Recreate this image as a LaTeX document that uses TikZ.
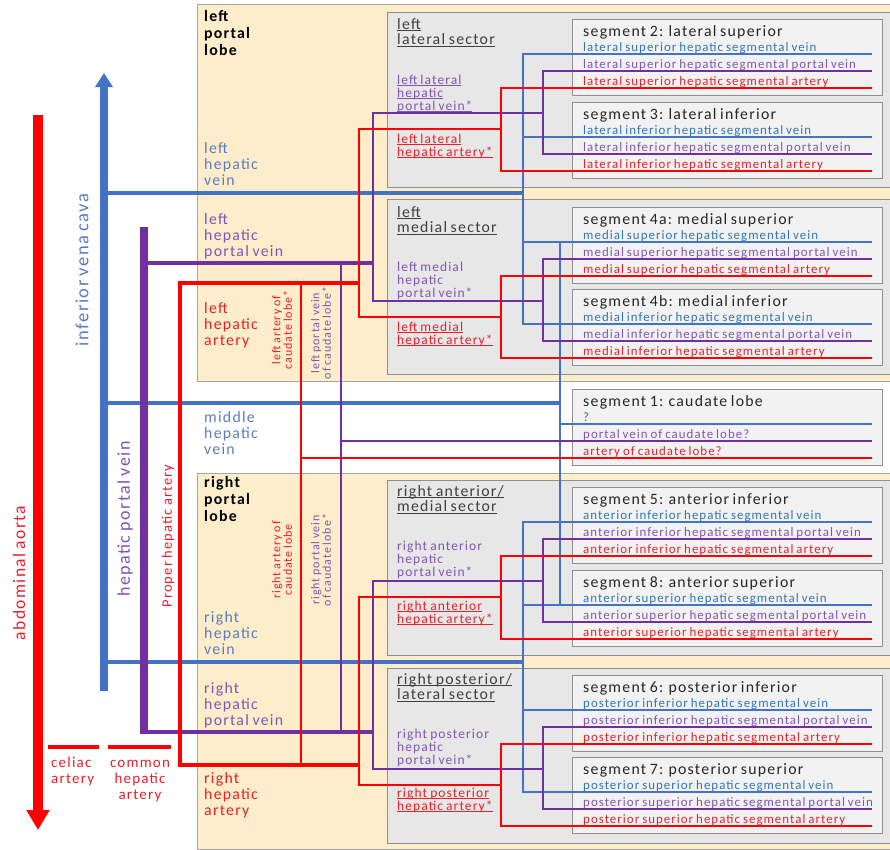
\documentclass[tikz,border=0pt]{standalone}
\usepackage{fontspec}
\setmainfont{Carlito}
\newfontfamily\cf[LetterSpace=8,WordSpace=0.75]{Carlito}
\usetikzlibrary{arrows.meta,calc}

\definecolor{veinC}{HTML}{4472C4}
\definecolor{pvC}{HTML}{7030A0}
\definecolor{artC}{HTML}{FF0000}
\definecolor{veinT}{HTML}{2E75B6}
\definecolor{lobeVeinT}{HTML}{5B7DC0}
\definecolor{pvT}{HTML}{7F56B0}
\definecolor{artT}{HTML}{E8202A}
\definecolor{lobeFill}{HTML}{FDEDCA}
\definecolor{lobeLine}{HTML}{A6A6A6}
\definecolor{secFill}{HTML}{E7E7E7}
\definecolor{segFill}{HTML}{F2F2F2}
\definecolor{boxLine}{HTML}{8F8F8F}
\definecolor{titleT}{HTML}{262626}
\definecolor{secT}{HTML}{404040}

% underline sitting just below the baseline
\newcommand\ulin[1]{\setbox0=\hbox{#1}\rlap{\rule[-2.2pt]{\wd0}{0.9pt}}\box0}

% one liver segment: box, title, three vessel labels and line ends
\newcommand\hepseg[6]{%
  \node[segbox] (#1) at (572,#2) {};
  \node[segtitle] (#1-t) at ($(#1.north west)+(11,17)$) {#3};
  \node[seglab, text=veinT] (#1-v) at ($(#1.north west)+(11,32.5)$) {#4};
  \node[seglab, text=pvT] (#1-p) at ($(#1.north west)+(11,49.5)$) {#5};
  \node[seglab, text=artT] (#1-a) at ($(#1.north west)+(11,66.5)$) {#6};
  \coordinate (#1-ve) at ($(#1.north west)+(300,35)$);
  \coordinate (#1-pe) at ($(#1.north west)+(300,52)$);
  \coordinate (#1-ae) at ($(#1.north west)+(300,69)$);
}

\begin{document}
\begin{tikzpicture}[x=1pt,y=-1pt,
  lobebox/.style={draw=lobeLine, fill=lobeFill, line width=0.9pt, minimum width=700pt, anchor=north west, inner sep=0, outer sep=0},
  secbox/.style={draw=boxLine, fill=secFill, line width=0.9pt, minimum width=510pt, minimum height=175pt, anchor=north west, inner sep=0, outer sep=0},
  segbox/.style={draw=boxLine, fill=segFill, line width=0.9pt, minimum width=310pt, minimum height=76pt, anchor=north west, inner sep=0, outer sep=0},
  segtitle/.style={anchor=base west, inner sep=0, text=titleT, font=\cf\fontsize{15.8}{17}\selectfont},
  seglab/.style={anchor=base west, inner sep=0, font=\cf\fontsize{12.9}{14}\selectfont},
  lobetitle/.style={anchor=base west, align=left, inner sep=0, text=black, font=\cf\bfseries\fontsize{15.8}{17}\selectfont},
  lobelab/.style={anchor=base west, align=left, inner sep=0, font=\cf\fontsize{15.8}{16}\selectfont},
  sectitle/.style={anchor=base west, align=left, inner sep=0, text=secT, font=\cf\fontsize{15.8}{15.5}\selectfont},
  secvt/.style={anchor=base west, align=left, inner sep=0, font=\cf\fontsize{13.5}{13}\selectfont},
  caud/.style={rotate=90, align=center, inner sep=0, font=\cf\fontsize{12}{11.5}\selectfont},
  biglab/.style={rotate=90, inner sep=0, font=\cf\fontsize{17.5}{19}\selectfont},
  vein/.style={draw=veinC, line width=2.5pt},
  veinb/.style={draw=veinC, line width=3.6pt},
  pv/.style={draw=pvC, line width=2.5pt},
  pvb/.style={draw=pvC, line width=3.4pt},
  art/.style={draw=artC, line width=2.5pt},
  artb/.style={draw=artC, line width=4pt},
]
\useasboundingbox (0,0) rectangle (890,849);
\clip (0,0) rectangle (890,849);
\fill[white] (0,0) rectangle (890,849);

% ---------- lobes, sectors, segments ----------
\node[lobebox, minimum height=377pt] (llobe) at (197,4) {};
\node[lobebox, minimum height=376pt] (rlobe) at (197,473) {};

\node[secbox] (lls) at (387,12) {};
\node[secbox] (lms) at (387,199) {};
\node[secbox] (ras) at (387,480) {};
\node[secbox] (rps) at (387,668) {};

\hepseg{s2}{19}{segment 2: lateral superior}{lateral superior hepatic segmental vein}{lateral superior hepatic segmental portal vein}{lateral superior hepatic segmental artery}
\hepseg{s3}{102}{segment 3: lateral inferior}{lateral inferior hepatic segmental vein}{lateral inferior hepatic segmental portal vein}{lateral inferior hepatic segmental artery}
\hepseg{s4a}{207}{segment 4a: medial superior}{medial superior hepatic segmental vein}{medial superior hepatic segmental portal vein}{medial superior hepatic segmental artery}
\hepseg{s4b}{289}{segment 4b: medial inferior}{medial inferior hepatic segmental vein}{medial inferior hepatic segmental portal vein}{medial inferior hepatic segmental artery}
\hepseg{s1}{389}{segment 1: caudate lobe}{?}{portal vein of caudate lobe?}{artery of caudate lobe?}
\hepseg{s5}{487}{segment 5: anterior inferior}{anterior inferior hepatic segmental vein}{anterior inferior hepatic segmental portal vein}{anterior inferior hepatic segmental artery}
\hepseg{s8}{570}{segment 8: anterior superior}{anterior superior hepatic segmental vein}{anterior superior hepatic segmental portal vein}{anterior superior hepatic segmental artery}
\hepseg{s6}{675}{segment 6: posterior inferior}{posterior inferior hepatic segmental vein}{posterior inferior hepatic segmental portal vein}{posterior inferior hepatic segmental artery}
\hepseg{s7}{757}{segment 7: posterior superior}{posterior superior hepatic segmental vein}{posterior superior hepatic segmental portal vein}{posterior superior hepatic segmental artery}

% ---------- lobe labels (anchored on the last line's baseline) ----------
\node[lobetitle] (llobe-t) at (204,55) {left\\portal\\lobe};
\node[lobelab, text=lobeVeinT] (lhv-t) at (204,185) {left\\hepatic\\vein};
\node[lobelab, text=pvT] (lpv-t) at (204,256) {left\\hepatic\\portal vein};
\node[lobelab, text=artT] (lha-t) at (204,345) {left\\hepatic\\artery};
\node[lobelab, text=lobeVeinT] (mhv-t) at (204,454) {middle\\hepatic\\vein};
\node[lobetitle] (rlobe-t) at (204,521) {right\\portal\\lobe};
\node[lobelab, text=lobeVeinT] (rhv-t) at (204,654) {right\\hepatic\\vein};
\node[lobelab, text=pvT] (rpv-t) at (204,725) {right\\hepatic\\portal vein};
\node[lobelab, text=artT] (rha-t) at (204,815) {right\\hepatic\\artery};

% ---------- sector labels ----------
\node[sectitle] (lls-t) at (397,44.5) {\ulin{left}\\\ulin{lateral sector}};
\node[sectitle] (lms-t) at (397,232.5) {\ulin{left}\\\ulin{medial sector}};
\node[sectitle] (ras-t) at (397,511.5) {\ulin{right anterior/}\\\ulin{medial sector}};
\node[sectitle] (rps-t) at (397,699.5) {\ulin{right posterior/}\\\ulin{lateral sector}};

\node[secvt, text=pvT] (llpv-t) at (397,110) {\ulin{left lateral}\\\ulin{hepatic}\\\ulin{portal vein*}};
\node[secvt, text=artT] (llha-t) at (397,156) {\ulin{left lateral}\\\ulin{hepatic artery*}};
\node[secvt, text=pvT] (lmpv-t) at (397,297) {left medial\\hepatic\\portal vein*};
\node[secvt, text=artT] (lmha-t) at (397,344) {\ulin{left medial}\\\ulin{hepatic artery*}};
\node[secvt, text=pvT] (rapv-t) at (397,576) {right anterior\\hepatic\\portal vein*};
\node[secvt, text=artT] (raha-t) at (397,623) {\ulin{right anterior}\\\ulin{hepatic artery*}};
\node[secvt, text=pvT] (rppv-t) at (397,764) {right posterior\\hepatic\\portal vein*};
\node[secvt, text=artT] (rpha-t) at (397,810) {\ulin{right posterior}\\\ulin{hepatic artery*}};

% ---------- caudate lobe branches ----------
\node[caud, text=artT] (lca-t) at (282,330) {left artery of\\caudate lobe*};
\node[caud, text=pvT] (lcpv-t) at (321,333) {left portal vein\\of caudate lobe*};
\node[caud, text=artT] (rca-t) at (282,560) {right artery of\\caudate lobe};
\node[caud, text=pvT] (rcpv-t) at (321,560) {right portal vein\\of caudate lobe*};

% ---------- main vessel labels ----------
\node[biglab, text=artT] (ao-t) at (19,573) {abdominal aorta};
\node[biglab, text=lobeVeinT, font=\cf\fontsize{18.5}{19}\selectfont] (ivc-t) at (82,270) {inferior vena cava};
\node[biglab, text=pvT, font=\cf\fontsize{18}{19}\selectfont] (hpv-t) at (125,519) {hepatic portal vein};
\node[biglab, text=artT, font=\cf\fontsize{14.5}{16}\selectfont] (pha-t) at (168,536) {Proper hepatic artery};
\node[anchor=base west, align=left, inner sep=0, text=artT, font=\cf\fontsize{15}{16}\selectfont] (cel-t) at (51,783) {celiac\\artery};
\node[anchor=base, align=center, inner sep=0, text=artT, font=\cf\fontsize{15}{16}\selectfont] (cha-t) at (140,799) {common\\hepatic\\artery};

% ---------- junction coordinates ----------
\coordinate (ivc-top) at (104,73);
\coordinate (ivc-bot) at (104,691);
\coordinate (lhv) at (523,193);
\coordinate (mhv) at (560,403);
\coordinate (rhv) at (523,662);

\coordinate (hpv-top) at (144,227);
\coordinate (hpv-bot) at (144,732);
\coordinate (lpv) at (373,263);
\coordinate (rpv) at (373,732);
\coordinate (cpv) at (341,441);
\coordinate (llpv-j) at (543,113);
\coordinate (lmpv-j) at (543,301);
\coordinate (rapv-j) at (543,581);
\coordinate (rppv-j) at (543,769);

\coordinate (ao-top) at (38,115);
\coordinate (ao-bot) at (38,830);
\coordinate (pha-top) at (180,283);
\coordinate (pha-bot) at (180,765);
\coordinate (lha) at (359,283);
\coordinate (rha) at (359,765);
\coordinate (cha) at (301,458);
\coordinate (llha-j) at (501,129);
\coordinate (lmha-j) at (501,317);
\coordinate (raha-j) at (501,597);
\coordinate (rpha-j) at (501,785);
\coordinate (cel-w) at (48,747);
\coordinate (cel-e) at (99,747);
\coordinate (com-w) at (108,747);
\coordinate (com-e) at (171,747);

% ---------- veins (drain into the inferior vena cava) ----------
\draw[veinb] (lhv -| ivc-top) -- (lhv);
\draw[veinb] (mhv -| ivc-top) -- (mhv);
\draw[veinb] (rhv -| ivc-top) -- (rhv);
\draw[vein] (s2-ve) -| (lhv) |- (s4b-ve);
\draw[vein] (s3-ve) -- (s3-ve -| lhv);
\draw[vein] (s4a-ve) -- (s4a-ve -| lhv);
\draw[vein] (s4a-ve -| mhv) -- (s8-ve -| mhv);
\draw[vein] (s1-ve) -- (s1-ve -| mhv);
\draw[vein] (s5-ve) -| (rhv) |- (s7-ve);
\draw[vein] (s8-ve) -- (s8-ve -| rhv);
\draw[vein] (s6-ve) -- (s6-ve -| rhv);
\draw[veinC, line width=8pt, -{Triangle[width=17pt,length=14pt]}] (ivc-bot) -- (ivc-top);

% ---------- portal veins ----------
\draw[pvb] (hpv-top |- lpv) -- (lpv);
\draw[pvb] (hpv-bot) -- (rpv);
\draw[pv] (llpv-j) -| (lpv) |- (lmpv-j);
\draw[pv] (s2-pe) -| (llpv-j) |- (s3-pe);
\draw[pv] (s4a-pe) -| (lmpv-j) |- (s4b-pe);
\draw[pv] (lpv -| cpv) -- (rpv -| cpv);
\draw[pv] (s1-pe) -- (s1-pe -| cpv);
\draw[pv] (rapv-j) -| (rpv) |- (rppv-j);
\draw[pv] (s5-pe) -| (rapv-j) |- (s8-pe);
\draw[pv] (s6-pe) -| (rppv-j) |- (s7-pe);
\draw[pvC, line width=8pt] (hpv-top) -- ($(hpv-bot)+(0,2)$);

% ---------- arteries ----------
\draw[artb] (lha) -- (pha-top) -- (pha-bot) -- (rha);
\draw[art] (llha-j) -| (lha) |- (lmha-j);
\draw[art] (s2-ae) -| (llha-j) |- (s3-ae);
\draw[art] (s4a-ae) -| (lmha-j) |- (s4b-ae);
\draw[art] (lha -| cha) -- (rha -| cha);
\draw[art] (s1-ae) -- (s1-ae -| cha);
\draw[art] (raha-j) -| (rha) |- (rpha-j);
\draw[art] (s5-ae) -| (raha-j) |- (s8-ae);
\draw[art] (s6-ae) -| (rpha-j) |- (s7-ae);
\draw[artC, line width=4.5pt] (cel-w) -- (cel-e);
\draw[artC, line width=4.5pt] (com-w) -- (com-e);
\draw[artC, line width=10pt, -{Triangle[width=22pt,length=20pt]}] (ao-top) -- (ao-bot);
\end{tikzpicture}
\end{document}
